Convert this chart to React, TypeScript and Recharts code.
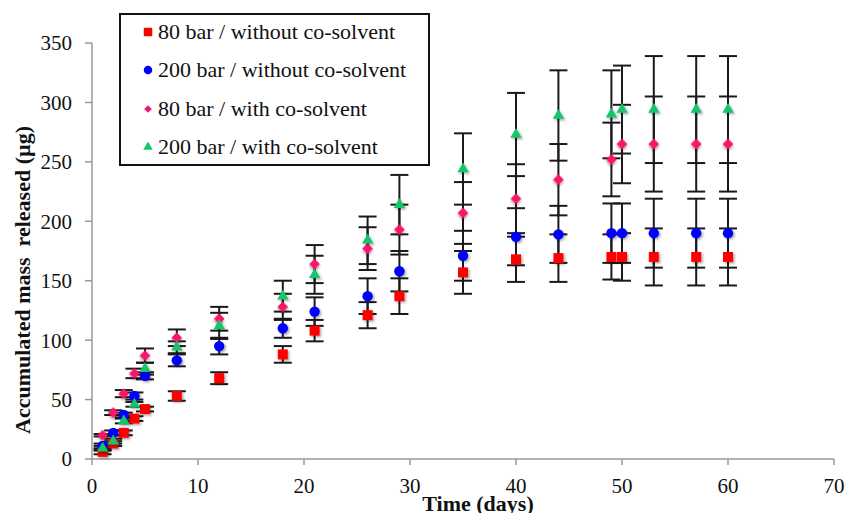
import React from "react";
import {
  ScatterChart,
  Scatter,
  XAxis,
  YAxis,
  ErrorBar,
  Legend,
  Label,
  Symbols,
} from "recharts";

const days = [1, 2, 3, 4, 5, 8, 12, 18, 21, 26, 29, 35, 40, 44, 49, 50, 53, 57, 60];

const bar80NoCo = [6, 13, 22, 34, 42, 53, 68, 88, 108, 121, 137, 157, 168, 169, 170, 170, 170, 170, 170];
const bar80NoCoErr = [2, 2, 2, 2, 2, 4, 5, 7, 9, 11, 15, 18, 19, 20, 19, 20, 24, 24, 24];

const bar200NoCo = [11, 22, 37, 53, 70, 83, 95, 110, 124, 137, 158, 171, 187, 189, 190, 190, 190, 190, 190];
const bar200NoCoErr = [2, 2, 2, 3, 3, 5, 7, 8, 12, 15, 17, 21, 24, 24, 25, 25, 29, 29, 29];

const bar80Co = [20, 39, 55, 72, 87, 102, 118, 128, 164, 177, 193, 207, 219, 235, 252, 265, 265, 265, 265];
const bar80CoErr = [1, 2, 3, 4, 6, 7, 10, 11, 16, 18, 21, 26, 29, 30, 31, 33, 40, 40, 40];

const bar200Co = [9, 15, 32, 46, 76, 94, 112, 137, 155, 184, 214, 244, 273, 289, 290, 294, 294, 294, 294];
const bar200CoErr = [2, 2, 2, 2, 5, 5, 11, 13, 16, 20, 25, 30, 35, 38, 37, 37, 45, 45, 45];

const xTicks = [0, 10, 20, 30, 40, 50, 60, 70];
const yTicks = [0, 50, 100, 150, 200, 250, 300, 350];

const toRows = (vals: number[], errs: number[]) =>
  days.map((d, i) => ({ day: d, mass: vals[i], err: errs[i] }));

const SERIES = [
  { name: "80 bar / without co-solvent", rows: toRows(bar80NoCo, bar80NoCoErr), color: "#ff0000", type: "square", size: 100 },
  { name: "200 bar / without co-solvent", rows: toRows(bar200NoCo, bar200NoCoErr), color: "#0000ff", type: "circle", size: 85 },
  { name: "80 bar / with co-solvent", rows: toRows(bar80Co, bar80CoErr), color: "#f7176b", type: "diamond", size: 58 },
  { name: "200 bar / with co-solvent", rows: toRows(bar200Co, bar200CoErr), color: "#16c46a", type: "triangle", size: 56 },
];

const SERIF = "'Liberation Serif', 'Times New Roman', serif";

const marker = (type: string, color: string, size: number) => (p: any) => {
  if (p.cx == null || p.cy == null) return null;
  if (type === "diamond") {
    return (
      <g transform={`rotate(45 ${p.cx} ${p.cy})`} filter="url(#mk-shadow)">
        <Symbols cx={p.cx} cy={p.cy} type="square" size={size} fill={color} />
      </g>
    );
  }
  return (
    <g filter="url(#mk-shadow)">
      <Symbols cx={p.cx} cy={p.cy} type={type as any} size={size} fill={color} />
    </g>
  );
};

const noMarker = () => <g />;

const LegendBox = ({ payload }: any) => {
  const items = SERIES.map((s) => (payload || []).find((e: any) => e.value === s.name)).filter(Boolean);
  return (
    <div
      style={{
        boxSizing: "border-box",
        width: 311,
        height: 153,
        border: "2px solid #111",
        background: "#fff",
        fontFamily: SERIF,
        fontSize: 22,
        color: "#111",
      }}
    >
      <div style={{ position: "relative", top: -2, paddingLeft: 22 }}>
        {items.map((entry: any) => (
          <div key={entry.value} style={{ height: 38.3, display: "flex", alignItems: "center", whiteSpace: "nowrap" }}>
            <svg width={10} height={10} style={{ marginRight: 5 }}>
              {entry.type === "diamond" ? (
                <g transform="rotate(45 5 5)">
                  <Symbols cx={5} cy={5} type="square" size={30} fill={entry.color} />
                </g>
              ) : (
                <Symbols
                  cx={5}
                  cy={5}
                  type={entry.type}
                  size={entry.type === "triangle" ? 9.5 : 8.5}
                  sizeType="diameter"
                  fill={entry.color}
                />
              )}
            </svg>
            <span>{entry.value}</span>
          </div>
        ))}
      </div>
    </div>
  );
};

const XTitle = ({ viewBox }: any) => (
  <text
    x={viewBox.x + viewBox.width / 2 + 15}
    y={viewBox.y + 52}
    textAnchor="middle"
    fontFamily={SERIF}
    fontWeight="bold"
    fontSize={22}
    fill="#111"
  >
    Time (days)
  </text>
);

const YTitle = ({ viewBox }: any) => {
  const cx = 30;
  const cy = viewBox.y + viewBox.height / 2 + 29;
  return (
    <text
      x={cx}
      y={cy}
      transform={`rotate(-90 ${cx} ${cy})`}
      textAnchor="middle"
      fontFamily={SERIF}
      fontWeight="bold"
      fontSize={22}
      fill="#111"
      style={{ whiteSpace: "pre" }}
    >
      Accumulated mass  released (µg)
    </text>
  );
};

export default function App() {
  return (
    <div style={{ position: "absolute", left: 0, top: 0, width: 850, height: 513, background: "#fff" }}>
      <ScatterChart width={850} height={513} margin={{ top: 43, right: 16, bottom: 0, left: 0 }}>
        <defs>
          <filter id="mk-shadow" x="-50%" y="-50%" width="200%" height="200%">
            <feDropShadow dx={1.5} dy={1.5} stdDeviation={1.2} floodColor="#000" floodOpacity={0.35} />
          </filter>
        </defs>
        <XAxis
          type="number"
          dataKey="day"
          domain={[0, 70]}
          ticks={xTicks}
          height={54}
          stroke="#999"
          strokeWidth={1.5}
          tickSize={6}
          tickMargin={13}
          tick={{ fontFamily: SERIF, fontSize: 21, fill: "#111" }}
        >
          <Label content={XTitle} />
        </XAxis>
        <YAxis
          type="number"
          dataKey="mass"
          domain={[0, 350]}
          ticks={yTicks}
          width={92}
          stroke="#999"
          strokeWidth={1.5}
          tickSize={7}
          tickMargin={13}
          tick={{ fontFamily: SERIF, fontSize: 21, fill: "#111" }}
        >
          <Label content={YTitle} />
        </YAxis>
        <Legend
          layout="vertical"
          align="center"
          verticalAlign="middle"
          content={<LegendBox />}
          wrapperStyle={{ left: 119, top: 13, width: 311, height: 153 }}
        />
        {/* error bars first so the markers sit on top of them */}
        {SERIES.map((s) => (
          <Scatter
            key={s.name + "-err"}
            name={s.name + " err"}
            data={s.rows}
            fill="none"
            legendType="none"
            shape={noMarker}
            isAnimationActive={false}
          >
            <ErrorBar dataKey="err" direction="y" width={9} stroke="#1a1a1a" strokeWidth={2} />
          </Scatter>
        ))}
        {SERIES.map((s) => (
          <Scatter
            key={s.name}
            name={s.name}
            data={s.rows}
            fill={s.color}
            legendType={s.type as any}
            shape={marker(s.type, s.color, s.size)}
            isAnimationActive={false}
          />
        ))}
      </ScatterChart>
    </div>
  );
}
